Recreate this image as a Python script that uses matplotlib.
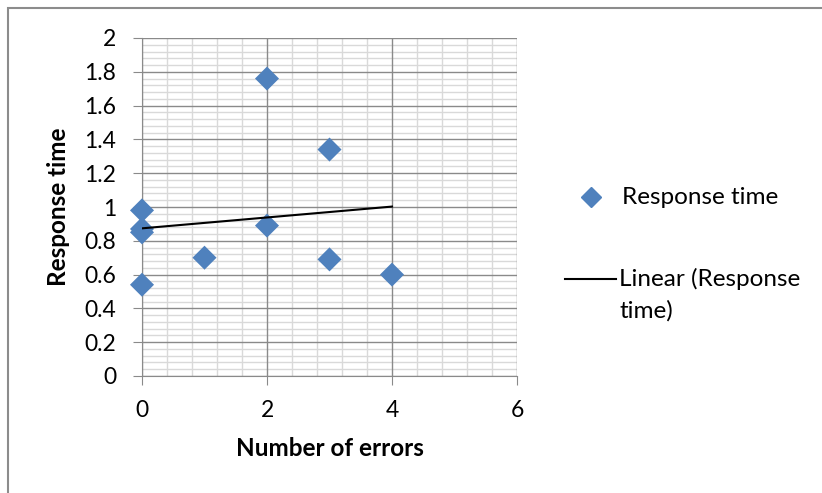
import numpy as np
import matplotlib
matplotlib.use('Agg')
import matplotlib.pyplot as plt
from matplotlib.ticker import MultipleLocator
from matplotlib.lines import Line2D
from matplotlib.patches import Rectangle

errors = [0, 0, 0, 0, 1, 2, 2, 3, 3, 4]
resp_time = [0.98, 0.87, 0.85, 0.54, 0.70, 1.76, 0.89, 1.34, 0.69, 0.60]
ytick_labels = ['0', '0.2', '0.4', '0.6', '0.8', '1', '1.2', '1.4', '1.6', '1.8', '2']

plt.rcParams['font.family'] = ['Lato', 'DejaVu Sans']

W, H = 822, 493
fig = plt.figure(figsize=(W / 100, H / 100), dpi=100)
ax = fig.add_axes([142 / W, 1 - 376 / H, 375 / W, 338 / H])

# outer chart border (only top/left inside the crop)
fig.patches.append(Rectangle((8 / W, -0.1), 1.2, 1 - 8 / H + 0.1,
                             transform=fig.transFigure, fill=False,
                             edgecolor='#8c8c8c', lw=1.5))

ax.set_xlim(0, 6)
ax.set_ylim(0, 2)
ax.xaxis.set_major_locator(MultipleLocator(2))
ax.xaxis.set_minor_locator(MultipleLocator(0.4))
ax.set_yticks(np.arange(0, 2.01, 0.2))
ax.set_yticklabels(ytick_labels)
ax.yaxis.set_minor_locator(MultipleLocator(0.04))

ax.grid(which='minor', color='#d9d9d9', lw=1.0, zorder=0)
for xv in ax.get_xticks():
    ax.axvline(xv, color='#8a8a8a', lw=1.0, zorder=1)
for yv in ax.get_yticks():
    ax.axhline(yv, color='#8a8a8a', lw=1.0, zorder=1)
ax.set_axisbelow(True)
for s in ['top', 'right']:
    ax.spines[s].set_visible(False)
for s in ['left', 'bottom']:
    ax.spines[s].set_color('#8a8a8a')
ax.tick_params(which='major', length=6.5, color='#8a8a8a', labelsize=16.5)
ax.tick_params(which='minor', length=0)
ax.tick_params(axis='x', pad=11)
ax.tick_params(axis='y', pad=12)

ax.scatter(errors, resp_time, marker='D', s=150, color='#4f81bd', zorder=3,
           edgecolors='none', clip_on=False)

k, b = np.polyfit(errors, resp_time, 1)
xs = np.array([min(errors), max(errors)])
ax.plot(xs, k * xs + b, color='black', lw=1.5, zorder=4)

ax.set_xlabel('Number of errors', fontsize=17.5, fontweight='bold', labelpad=11)
ax.set_ylabel('Response time', fontsize=17.5, fontweight='bold', labelpad=10)

# legend, drawn by hand so the line sits on the first text row
fig.add_artist(Line2D([591 / W], [1 - 197 / H], marker='D', color='#4f81bd',
                      ls='none', markersize=10, transform=fig.transFigure))
fig.text(622 / W, 1 - 197 / H, 'Response time', fontsize=17.5, va='center')
fig.add_artist(Line2D([565 / W, 616 / W], [1 - 279 / H] * 2, color='black',
                      lw=1.5, transform=fig.transFigure))
fig.text(619 / W, 1 - 279 / H, 'Linear (Response', fontsize=17.5, va='center')
fig.text(619 / W, 1 - 311 / H, 'time)', fontsize=17.5, va='center')

fig.savefig('out.png', dpi=100)
